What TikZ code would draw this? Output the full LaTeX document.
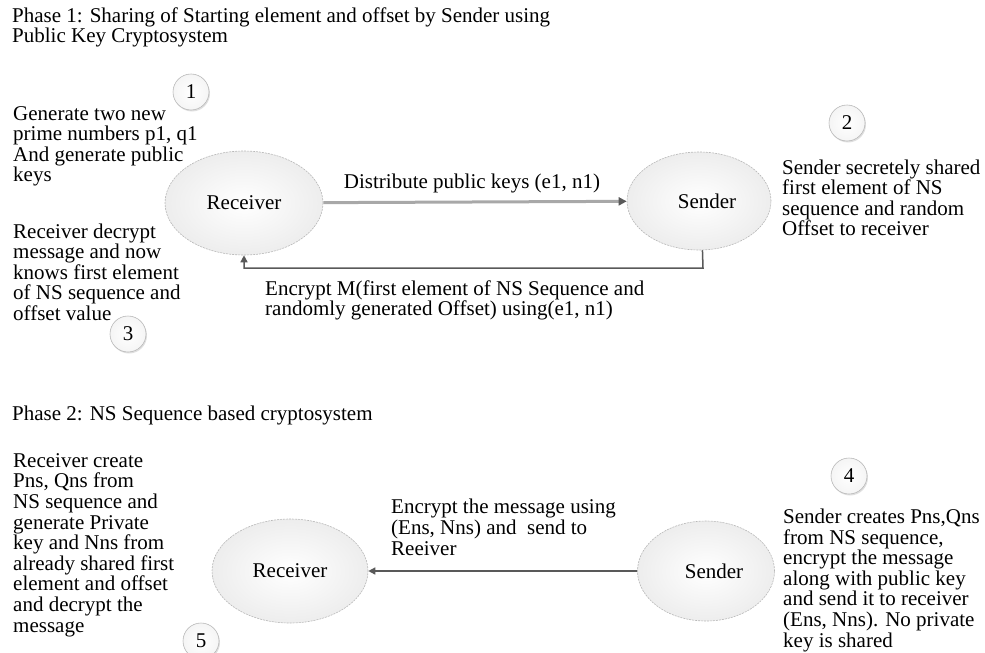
\documentclass[tikz,border=0pt]{standalone}
\usepackage{fontspec}
\setmainfont{Liberation Serif}
\usetikzlibrary{arrows.meta,shapes.geometric,shadows}
\definecolor{ellline}{HTML}{B8B8B8}
\definecolor{darkln}{HTML}{595959}
\definecolor{lightln}{HTML}{A8A8A8}
\begin{document}
\begin{tikzpicture}[x=1pt,y=-1pt,
  txt/.style={font=\fontsize{21}{20.6}\selectfont, inner sep=0pt, align=left, anchor=base west},
  lbl/.style={font=\fontsize{21}{20.6}\selectfont, inner sep=0pt},
  actor/.style={ellipse, draw=ellline, line width=0.6pt, dash pattern=on 2pt off 1pt,
     inner color=white, outer color=black!7, inner sep=0pt,
     font=\fontsize{21}{20.6}\selectfont},
  stepnum/.style={circle, draw=ellline, line width=0.6pt, inner color=white, outer color=black!4,
     inner sep=0pt, minimum size=36pt, font=\fontsize{21}{20.6}\selectfont,
     drop shadow={shadow xshift=1pt, shadow yshift=-1.5pt, opacity=0.25}},
  darrow/.style={draw=darkln, line width=1.5pt, -{Triangle[length=7pt,width=7pt]}},
]
\useasboundingbox (0,0) rectangle (985,653);

% Phase 1 (multi-line nodes are anchored at the baseline of their last line)
\node[txt] (title1) at (12,42.6) {Phase 1: Sharing of Starting element and offset by Sender using\\Public Key Cryptosystem};

\node[stepnum] (n1) at (191,92) {1};
\node[txt] (t1) at (13,181.8) {Generate two new\\prime numbers p1, q1\\And generate public\\keys};
\node[txt] (t3) at (13,320.4) {Receiver decrypt\\message and now\\knows first element\\of NS sequence and\\offset value};
\node[stepnum] (n3) at (128,334) {3};

\node[actor, minimum width=158pt, minimum height=104pt] (r1) at (244,203) {Receiver};
\node[actor, minimum width=144pt, minimum height=98pt] (s1) at (699,201) {\hspace*{16pt}Sender};

\node[stepnum] (n2) at (847,123) {2};
\node[txt] (t2) at (782,235.8) {Sender secretely shared\\first element of NS\\sequence and random\\Offset to receiver};

\draw[draw=lightln, line width=3pt, -{Triangle[length=8pt,width=8pt,color=darkln]}] (r1) -- (s1);
\node[lbl, anchor=base] (l1) at (472,188) {Distribute public keys (e1, n1)};

\coordinate (c1) at (703,268);
\coordinate (c2) at (244,268);
\draw[darrow] (s1.-86) -- (c1) -- (c2) -- (r1.south);
\node[txt] (l2) at (265,315.6) {Encrypt M(first element of NS Sequence and\\randomly generated Offset) using(e1, n1)};

% Phase 2
\node[txt] (title2) at (12,420) {Phase 2: NS Sequence based cryptosystem};

\node[txt] (t5) at (13,632) {Receiver create\\Pns, Qns from\\NS sequence and\\generate Private\\key and Nns from\\already shared first\\element and offset\\and decrypt the\\message};
\node[stepnum] (n5) at (201,641) {5};

\node[actor, minimum width=156pt, minimum height=104pt] (r2) at (290,571) {Receiver};
\node[actor, minimum width=137pt, minimum height=100pt] (s2) at (706,571) {\hspace*{16pt}Sender};

\draw[darrow] (s2) -- (r2);
\node[txt] (l3) at (391,555) {Encrypt the message using\\(Ens, Nns) and\ \ send to\\Reeiver};

\node[stepnum] (n4) at (849,476) {4};
\node[txt] (t4) at (783,647) {Sender creates Pns,Qns\\from NS sequence,\\encrypt the message\\along with public key\\and send it to receiver\\(Ens, Nns). No private\\key is shared};
\end{tikzpicture}
\end{document}
